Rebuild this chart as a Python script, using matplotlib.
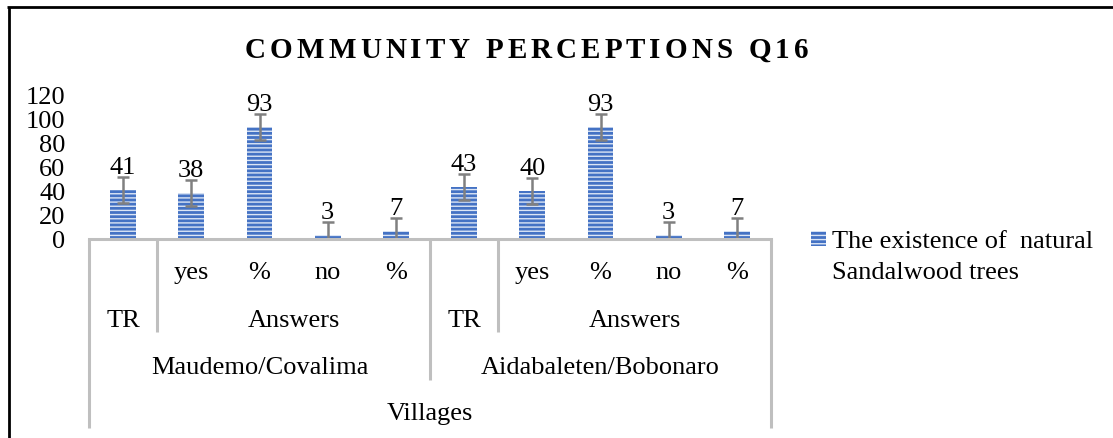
import matplotlib
matplotlib.use("Agg")
import matplotlib.pyplot as plt
import matplotlib.transforms as mtransforms
from matplotlib.patches import Rectangle
from matplotlib.lines import Line2D

# values
categories = ["TR", "yes", "%", "no", "%", "TR", "yes", "%", "no", "%"]
values = [41, 38, 93, 3, 7, 43, 40, 93, 3, 7]
# Excel "standard error" bars: one value for every point
std_error = 10.77
row1_labels = ["", "yes", "%", "no", "%", "", "yes", "%", "no", "%"]
row2_groups = [("TR", 0, 0), ("Answers", 1, 4), ("TR", 5, 5), ("Answers", 6, 9)]
row3_groups = [("Maudemo/Covalima", 0, 4), ("Aidabaleten/Bobonaro", 5, 9)]
row4_groups = [("Villages", 0, 9)]
yticks = [0, 20, 40, 60, 80, 100, 120]
series_name = ["The existence of  natural", "Sandalwood trees"]
title = "COMMUNITY PERCEPTIONS Q16"

W, H = 1113, 439
BLUE = "#4472C4"
STRIPE = "#dce6f5"
GRID = "#BFBFBF"
FONT = "Liberation Serif"
FS = 19

plt.rcParams["font.family"] = [FONT, "DejaVu Serif"]
plt.rcParams["hatch.linewidth"] = 1.0


def fx(px):
    return px / W


def fy(py):
    return 1 - py / H


fig = plt.figure(figsize=(W / 100, H / 100), dpi=100)
fig.patch.set_facecolor("white")

# outer chart border (only top and left are inside the picture)
fig.add_artist(Line2D([fx(8.5), fx(8.5)], [fy(8), 0], color="black", lw=2.0,
                      transform=fig.transFigure, solid_capstyle="butt"))
fig.add_artist(Line2D([fx(7.2), 1], [fy(8), fy(8)], color="black", lw=2.0,
                      transform=fig.transFigure, solid_capstyle="butt"))

ax = fig.add_axes([fx(89), fy(240), fx(771) - fx(89), fy(96) - fy(240)])
x = list(range(len(values)))
bars = ax.bar(x, values, width=0.38, color=BLUE, edgecolor=STRIPE, linewidth=0,
              hatch="----")
ax.errorbar(x, values, yerr=std_error, fmt="none", ecolor="#808080",
            elinewidth=1.8, capsize=4.5, capthick=1.8)
for xi, v in zip(x, values):
    ax.annotate(str(v), (xi, v), xytext=(0, 12.3), textcoords="offset points",
                ha="center", va="baseline", fontsize=FS)

ax.set_xlim(-0.5, len(values) - 0.5)
ax.set_ylim(0, 120)
ax.set_yticks(yticks)
ax.set_xticks([])
ax.tick_params(axis="y", length=0, labelsize=FS, pad=17)
for s in ["top", "right", "left"]:
    ax.spines[s].set_visible(False)
ax.spines["bottom"].set_color(GRID)
ax.spines["bottom"].set_linewidth(2.2)

# multi-level category axis
trans = mtransforms.blended_transform_factory(ax.transData, fig.transFigure)


def vline(xd, y_end):
    fig.add_artist(Line2D([xd, xd], [fy(240), fy(y_end)], color=GRID, lw=2.2,
                          transform=trans, solid_capstyle="butt"))


for xd in [-0.5, len(values) - 0.5]:
    vline(xd, 429)
vline(4.5, 381)
for xd in [0.5, 5.5]:
    vline(xd, 333)

for xi, lab in zip(x, row1_labels):
    if lab:
        fig.text(xi, fy(279), lab, transform=trans, ha="center", va="baseline",
                 fontsize=FS)
for groups, base in [(row2_groups, 327), (row3_groups, 374), (row4_groups, 420)]:
    for lab, a, b in groups:
        fig.text((a + b) / 2, fy(base), lab, transform=trans, ha="center",
                 va="baseline", fontsize=FS)

# legend
fig.add_artist(Rectangle((fx(811), fy(247)), fx(15), fy(232) - fy(247),
                         facecolor=BLUE, edgecolor=STRIPE, linewidth=0,
                         hatch="----", transform=fig.transFigure))
fig.text(fx(832), fy(248), series_name[0], ha="left", va="baseline", fontsize=FS)
fig.text(fx(832), fy(279), series_name[1], ha="left", va="baseline", fontsize=FS)

# title with letter spacing, spread over 245..808 px like the original
TFS = 21
title_left, title_right = 245, 808
fig.canvas.draw()
rend = fig.canvas.get_renderer()
space_w = 0.25 * TFS * 100 / 72
widths = []
for ch in title:
    if ch == " ":
        widths.append(space_w)
        continue
    t = fig.text(0, 0, ch, fontsize=TFS, fontweight="bold")
    widths.append(t.get_window_extent(rend).width)
    t.remove()
tracking = (title_right - title_left - sum(widths)) / (len(title) - 1)
cx = title_left
for ch, w in zip(title, widths):
    if ch != " ":
        fig.text(fx(cx), fy(57.7), ch, fontsize=TFS, fontweight="bold",
                 ha="left", va="baseline")
    cx += w + tracking

fig.savefig("out.png", dpi=100)
